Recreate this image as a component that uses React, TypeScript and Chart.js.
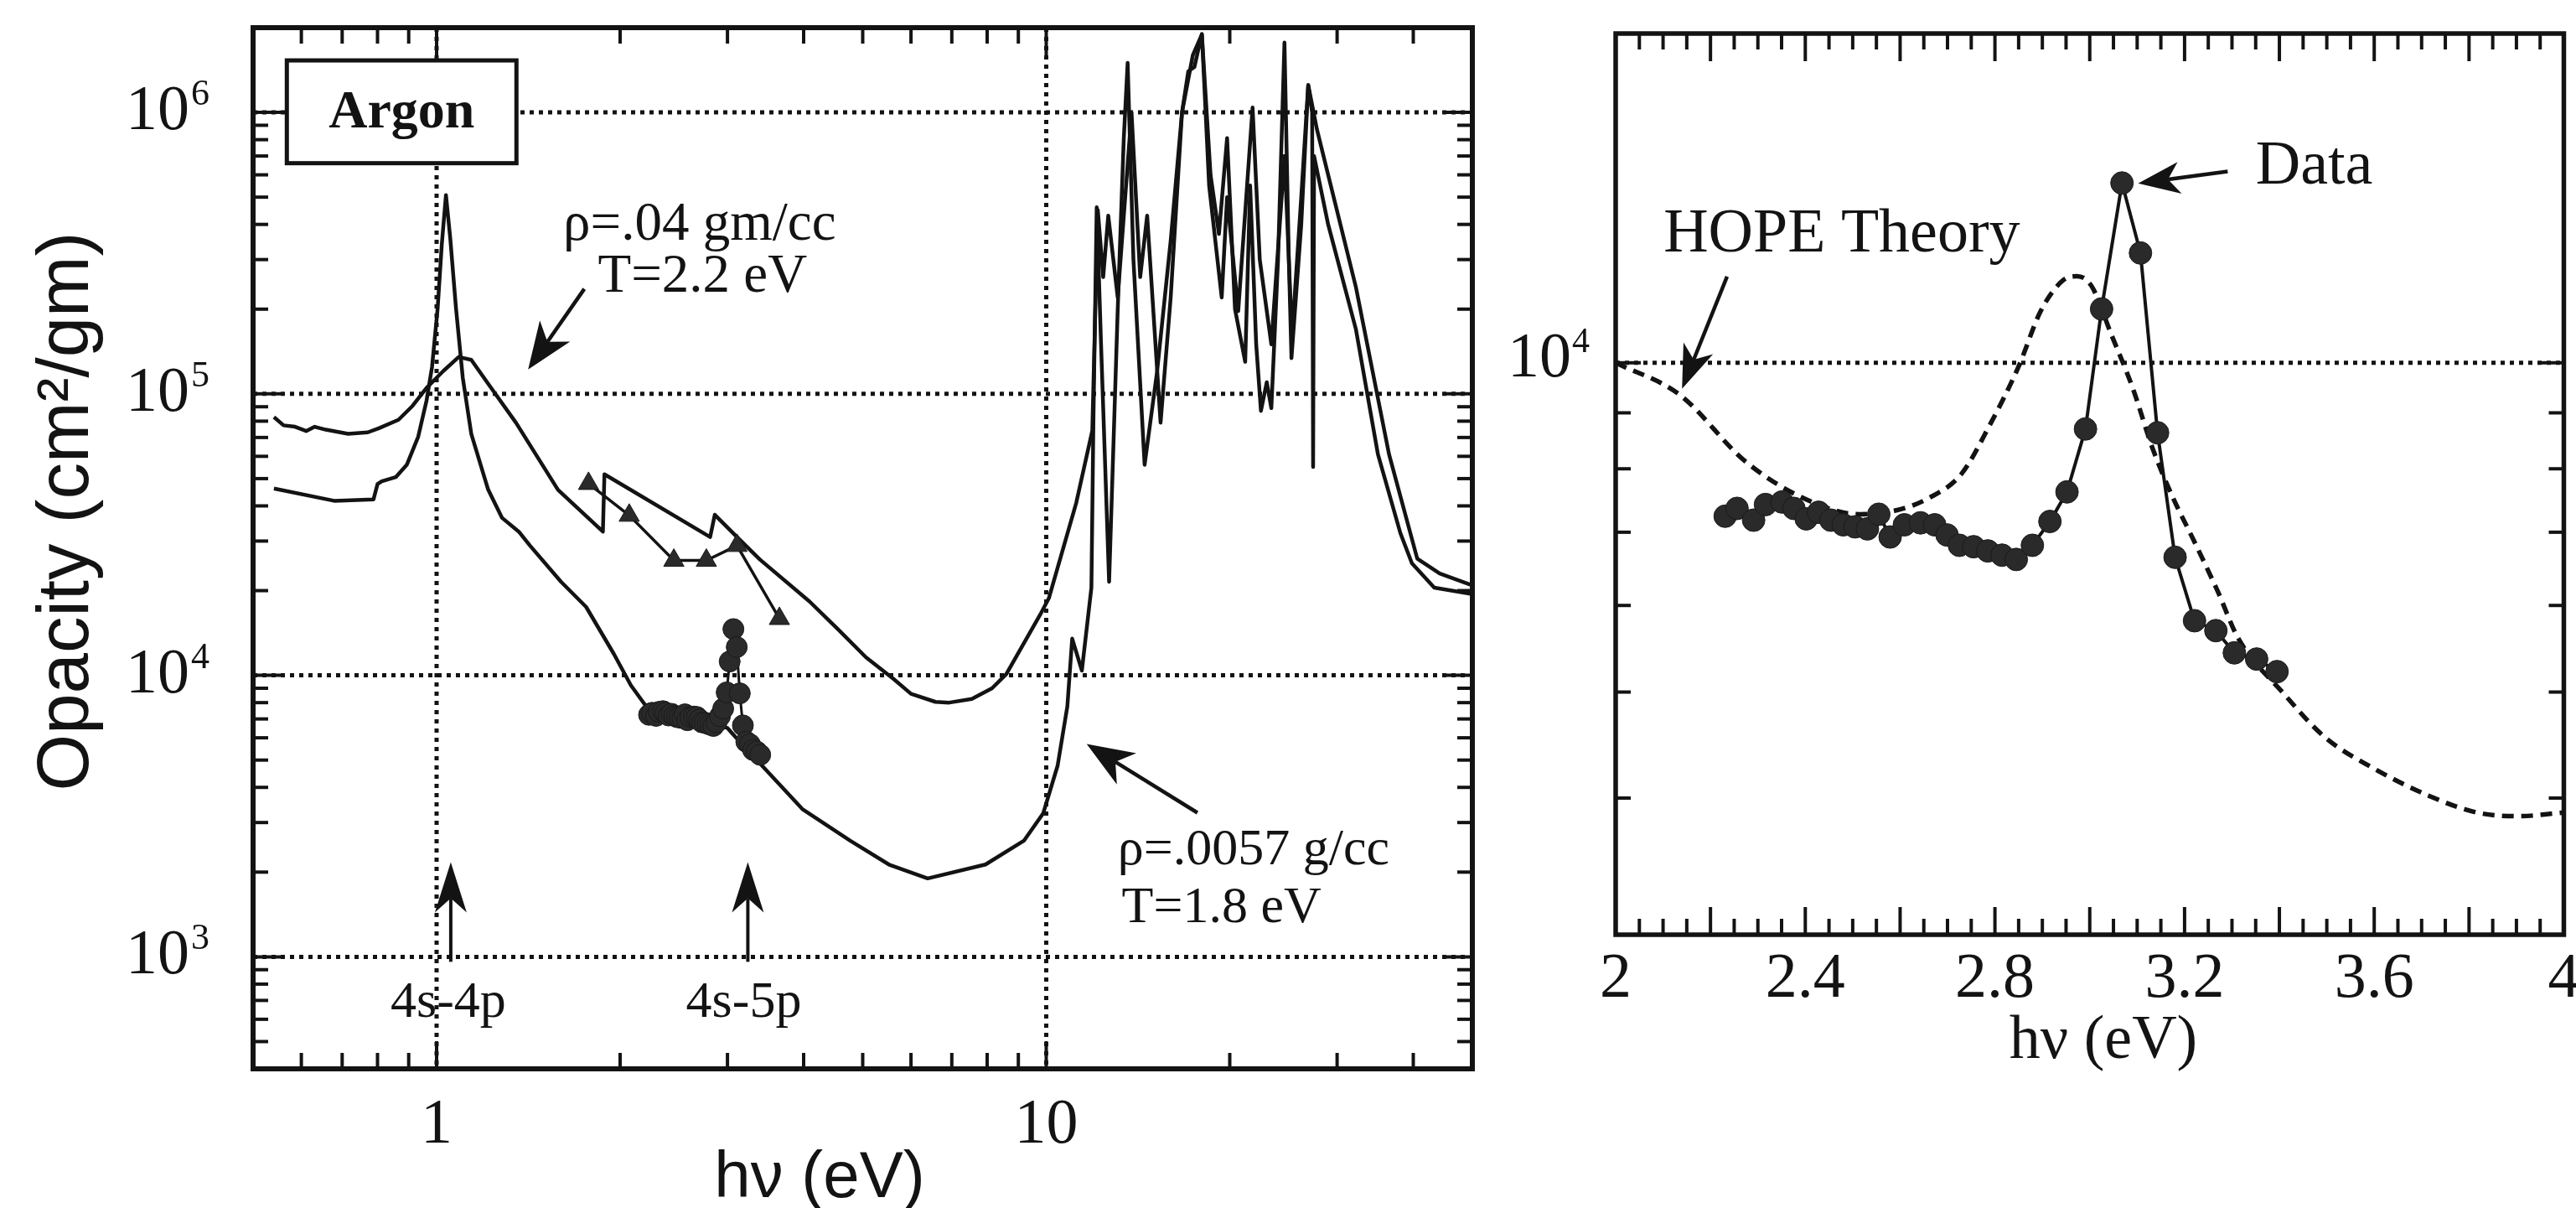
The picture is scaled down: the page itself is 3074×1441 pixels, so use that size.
import React, { useEffect, useRef } from "react";
import { Chart, registerables } from "chart.js";

Chart.register(...registerables);

const SERIF = '"Liberation Serif", "DejaVu Serif", serif';
const SANS = '"Liberation Sans", "DejaVu Sans", sans-serif';
const INK = "#131313";
const DOT = "#2a2a2a";

// ---------- Left panel: HOPE opacity curves (log-log) ----------
const rho04Energy = [
  0.541, 0.561, 0.586, 0.611, 0.631, 0.658, 0.716, 0.771, 0.804, 0.866, 0.913, 0.963, 1.026, 1.087, 1.14,
  1.215, 1.35, 1.582, 1.874, 1.885, 2.81, 2.86, 3.11, 3.39, 4.09, 4.55, 5.06, 5.62, 6.0, 6.58, 6.93, 7.55,
  8.15, 8.6, 9.77, 10.1, 11.2, 11.9, 12.15, 12.4, 12.64, 13.1, 13.8, 14.26, 14.64, 15.4, 16.0, 16.7, 17.1,
  17.5, 18.0, 18.5, 19.4, 19.8, 20.65, 21.8, 22.4, 23.4, 24.6, 25.3, 26.2, 26.9, 27.8, 29.0, 32.2, 36.5,
  40.6, 44.2, 49.6,
];
const rho04Opacity = [
  82700, 77300, 76400, 73800, 76400, 74600, 72100, 73000, 75500, 80900, 90600, 105100, 120600, 135200, 132100,
  108700, 78900, 45600, 32400, 51800, 31000, 37200, 31000, 25800, 18300, 14600, 11600, 9700, 8600, 8050, 8000,
  8250, 9000, 10100, 16400, 18800, 41000, 74000, 450000, 260000, 430000, 220000, 1000000, 260000, 430000,
  79000, 220000, 1000000, 1400000, 1450000, 1900000, 550000, 220000, 500000, 197000, 1040000, 300000, 150000,
  700000, 160000, 500000, 1250000, 870000, 600000, 240000, 61000, 26000, 23000, 21000,
];
const rho0057Energy = [
  0.541, 0.679, 0.788, 0.8, 0.813, 0.857, 0.894, 0.933, 0.963, 0.983, 1.004, 1.02, 1.036, 1.053, 1.076, 1.104,
  1.14, 1.215, 1.28, 1.364, 1.423, 1.6, 1.759, 1.954, 2.083, 2.196, 2.6, 3.0, 3.316, 3.39, 3.98, 4.77, 5.52,
  6.39, 7.95, 9.19, 9.89, 10.44, 10.83, 11.03, 11.44, 11.86, 11.95, 12.1, 12.3, 12.68, 13.1, 13.4, 13.6, 13.9,
  14.5, 15.2, 16.0, 16.7, 17.4, 18.0, 18.6, 19.2, 19.8, 20.4, 21.2, 21.6, 22.1, 22.5, 23.0, 23.4, 24.0, 24.59,
  25.0, 25.25, 26.2, 26.9, 27.3, 27.4, 27.5, 29.0, 32.2, 35.0, 38.1, 39.8, 43.3, 49.6,
];
const rho0057Opacity = [
  46100, 41700, 42200, 47800, 48900, 50600, 56100, 70500, 94900, 124800, 201500, 341000, 508700, 356700,
  201500, 114000, 72100, 45700, 36300, 32400, 28900, 21500, 17500, 11900, 9220, 7870, 7000, 6500, 5100, 4870,
  3350, 2584, 2128, 1899, 2128, 2584, 3240, 4780, 7760, 13500, 10400, 20500, 80000, 460000, 150000, 21500,
  200000, 800000, 1500000, 300000, 56000, 120000, 350000, 1000000, 1600000, 1890000, 600000, 370000, 810000,
  200000, 130000, 550000, 150000, 87000, 110000, 89000, 300000, 1770000, 300000, 134000, 400000, 1250000,
  1000000, 55000, 700000, 400000, 170000, 61000, 32000, 25000, 20500, 19500,
];
const triangleEnergy = [1.775, 2.07, 2.45, 2.77, 3.11, 3.65];
const triangleOpacity = [48000, 37000, 25600, 25600, 28900, 15900];

// ---------- Measured data (shown in both panels) ----------
const dataEnergy = [
  2.231, 2.256, 2.291, 2.316, 2.351, 2.376, 2.402, 2.428, 2.454, 2.48, 2.505, 2.531, 2.555, 2.579, 2.609,
  2.643, 2.673, 2.699, 2.725, 2.755, 2.785, 2.815, 2.845, 2.879, 2.916, 2.952, 2.991, 3.025, 3.068, 3.107,
  3.143, 3.18, 3.221, 3.266, 3.305, 3.352, 3.395,
];
const dataOpacity = [
  7240, 7360, 7180, 7420, 7460, 7360, 7200, 7300, 7180, 7110, 7080, 7050, 7270, 6930, 7110, 7140, 7110, 6960,
  6810, 6790, 6730, 6670, 6610, 6810, 7160, 7620, 8700, 11200, 14600, 12600, 8630, 6640, 5810, 5690, 5430,
  5360, 5220,
];

// ---------- Right panel: HOPE theory ----------
const hopeEnergy = [
  2.0, 2.135, 2.273, 2.402, 2.514, 2.592, 2.66, 2.729, 2.789, 2.849, 2.897, 2.944, 2.973, 3.004, 3.046, 3.09,
  3.133, 3.176, 3.218, 3.27, 3.313, 3.408, 3.495, 3.598, 3.715, 3.817, 3.904, 4.0,
];
const hopeOpacity = [
  10000, 9350, 8130, 7500, 7270, 7330, 7520, 7910, 8770, 9900, 11160, 11900, 12000, 11750, 10600, 9500, 8340,
  7520, 6900, 6180, 5600, 4990, 4550, 4260, 4020, 3880, 3850, 3880,
];

// ---------- Axis ticks / labels ----------
const leftXMinorTicks = [0.6, 0.7, 0.8, 0.9, 2, 3, 4, 5, 6, 7, 8, 9, 20, 30, 40];
const leftXMajorTicks = [1, 10];
const leftXTickLabels = ["1", "10"];
const leftYExponents = [3, 4, 5, 6];
const rightXTickValues = [2, 2.4, 2.8, 3.2, 3.6, 4];
const rightXTickLabels = ["2", "2.4", "2.8", "3.2", "3.6", "4"];
const rightYMinorTicks = [4000, 5000, 6000, 7000, 8000, 9000];
const rightYExponents = [4];

type Pt = { x: number; y: number };
const zip = (xs: number[], ys: number[]): Pt[] => xs.map((x, i) => ({ x, y: ys[i] }));

function seg(ctx: CanvasRenderingContext2D, x1: number, y1: number, x2: number, y2: number) {
  ctx.beginPath();
  ctx.moveTo(x1, y1);
  ctx.lineTo(x2, y2);
  ctx.stroke();
}

function arrow(
  ctx: CanvasRenderingContext2D,
  x1: number, y1: number, x2: number, y2: number,
  head = 50, half = 20, lw = 4.5
) {
  const ang = Math.atan2(y2 - y1, x2 - x1);
  const c = Math.cos(ang), s = Math.sin(ang);
  const bx = x2 - c * head * 0.72, by = y2 - s * head * 0.72;
  ctx.save();
  ctx.setLineDash([]);
  ctx.lineWidth = lw;
  ctx.strokeStyle = INK;
  ctx.fillStyle = INK;
  seg(ctx, x1, y1, bx, by);
  ctx.beginPath();
  ctx.moveTo(x2, y2);
  ctx.lineTo(x2 - c * head - s * half, y2 - s * head + c * half);
  ctx.lineTo(bx, by);
  ctx.lineTo(x2 - c * head + s * half, y2 - s * head - c * half);
  ctx.closePath();
  ctx.fill();
  ctx.restore();
}

function text(ctx: CanvasRenderingContext2D, str: string, x: number, y: number, font: string, align: CanvasTextAlign = "center", base: CanvasTextBaseline = "middle") {
  ctx.font = font;
  ctx.textAlign = align;
  ctx.textBaseline = base;
  ctx.fillStyle = INK;
  ctx.fillText(str, x, y);
}

// ---------- Left chart decorations ----------
const leftDecor = {
  id: "leftDecor",
  beforeDatasetsDraw(chart: any) {
    const { ctx, chartArea: a, scales } = chart;
    const { x, y } = scales;
    ctx.save();
    ctx.strokeStyle = INK;
    ctx.lineWidth = 5;
    ctx.setLineDash([5, 6]);
    for (const e of leftYExponents) {
      const py = y.getPixelForValue(Math.pow(10, e));
      seg(ctx, a.left, py, a.right, py);
    }
    for (const v of leftXMajorTicks) {
      const px = x.getPixelForValue(v);
      seg(ctx, px, a.top, px, a.bottom);
    }
    ctx.restore();
  },
  afterDatasetsDraw(chart: any) {
    const { ctx, chartArea: a, scales } = chart;
    const { x, y } = scales;
    const X = (v: number) => x.getPixelForValue(v);
    const Y = (v: number) => y.getPixelForValue(v);
    ctx.save();
    ctx.setLineDash([]);
    ctx.strokeStyle = INK;

    // Argon box
    const bx1 = X(0.568), bx2 = X(1.352), by1 = Y(1.53e6), by2 = Y(6.6e5);
    ctx.fillStyle = "#fff";
    ctx.fillRect(bx1, by1, bx2 - bx1, by2 - by1);
    ctx.lineWidth = 5;
    ctx.strokeRect(bx1, by1, bx2 - bx1, by2 - by1);
    text(ctx, "Argon", (bx1 + bx2) / 2, (by1 + by2) / 2 + 2, `bold 64px ${SERIF}`);

    // frame
    ctx.lineWidth = 6;
    ctx.strokeRect(a.left, a.top, a.right - a.left, a.bottom - a.top);

    // ticks
    ctx.lineWidth = 4;
    for (const v of leftXMinorTicks) {
      const px = X(v);
      seg(ctx, px, a.bottom, px, a.bottom - 19);
      seg(ctx, px, a.top, px, a.top + 19);
    }
    for (const v of leftXMajorTicks) {
      const px = X(v);
      seg(ctx, px, a.bottom, px, a.bottom - 33);
      seg(ctx, px, a.top, px, a.top + 33);
    }
    for (let e = 2; e <= 6; e++) {
      for (let m = 1; m <= 9; m++) {
        const v = m * Math.pow(10, e);
        if (v <= 400 || v >= 2e6) continue;
        const len = m === 1 ? 33 : 18;
        const py = Y(v);
        seg(ctx, a.left, py, a.left + len, py);
        seg(ctx, a.right, py, a.right - len, py);
      }
    }

    // y tick labels 10^n
    for (const e of leftYExponents) {
      const py = Y(Math.pow(10, e));
      text(ctx, "10", a.left - 76, py + 20, `76px ${SERIF}`, "right", "alphabetic");
      text(ctx, String(e), a.left - 74, py - 9, `44px ${SERIF}`, "left", "alphabetic");
    }
    // x tick labels
    leftXMajorTicks.forEach((v, i) => {
      text(ctx, leftXTickLabels[i], X(v), a.bottom + 88, `76px ${SERIF}`, "center", "alphabetic");
    });

    // axis titles
    text(ctx, "h\u03bd (eV)", 978, 1428, `78px ${SANS}`, "center", "alphabetic");
    ctx.save();
    ctx.translate(105, 610);
    ctx.rotate(-Math.PI / 2);
    text(ctx, "Opacity (cm\u00b2/gm)", 0, 0, `87px ${SANS}`, "center", "alphabetic");
    ctx.restore();

    // annotations
    text(ctx, "\u03c1=.04 gm/cc", X(2.70), Y(3.96e5), `65px ${SERIF}`);
    text(ctx, "T=2.2 eV", X(2.73), Y(2.59e5), `65px ${SERIF}`);
    arrow(ctx, X(1.747), Y(2.36e5), X(1.413), Y(1.22e5), 56, 22);

    text(ctx, "\u03c1=.0057 g/cc", X(13.1), Y(2390), `62px ${SERIF}`, "left");
    text(ctx, "T=1.8 eV", X(13.3), Y(1490), `62px ${SERIF}`, "left");
    arrow(ctx, X(17.7), Y(3250), X(11.65), Y(5700), 56, 22);

    text(ctx, "4s-4p", X(1.045), Y(686), `62px ${SERIF}`);
    text(ctx, "4s-5p", X(3.19), Y(686), `62px ${SERIF}`);
    arrow(ctx, X(1.055), Y(960), X(1.055), Y(2170), 60, 19, 4);
    arrow(ctx, X(3.24), Y(960), X(3.24), Y(2170), 60, 19, 4);

    ctx.restore();
  },
};

// ---------- Right chart decorations ----------
const rightDecor = {
  id: "rightDecor",
  beforeDatasetsDraw(chart: any) {
    const { ctx, chartArea: a, scales } = chart;
    const { y } = scales;
    ctx.save();
    ctx.strokeStyle = INK;
    ctx.lineWidth = 5;
    ctx.setLineDash([5, 6]);
    for (const e of rightYExponents) {
      const py = y.getPixelForValue(Math.pow(10, e));
      seg(ctx, a.left, py, a.right, py);
    }
    ctx.restore();
  },
  afterDatasetsDraw(chart: any) {
    const { ctx, chartArea: a, scales } = chart;
    const { x, y } = scales;
    const X = (v: number) => x.getPixelForValue(v);
    const Y = (v: number) => y.getPixelForValue(v);
    ctx.save();
    ctx.setLineDash([]);
    ctx.strokeStyle = INK;

    ctx.lineWidth = 5.5;
    ctx.strokeRect(a.left, a.top, a.right - a.left, a.bottom - a.top);

    ctx.lineWidth = 4;
    for (let i = 1; i < 40; i++) {
      const v = 2 + i * 0.05;
      const len = i % 4 === 0 ? 33 : 19;
      const px = X(v);
      seg(ctx, px, a.bottom, px, a.bottom - len);
      seg(ctx, px, a.top, px, a.top + len);
    }
    for (const v of rightYMinorTicks) {
      const py = Y(v);
      seg(ctx, a.left, py, a.left + 18, py);
      seg(ctx, a.right, py, a.right - 18, py);
    }
    for (const e of rightYExponents) {
      const py = Y(Math.pow(10, e));
      seg(ctx, a.left, py, a.left + 30, py);
      seg(ctx, a.right, py, a.right - 30, py);
      text(ctx, "10", a.left - 53, py + 16, `76px ${SERIF}`, "right", "alphabetic");
      text(ctx, String(e), a.left - 52, py - 13, `42px ${SERIF}`, "left", "alphabetic");
    }
    rightXTickValues.forEach((v, i) => {
      text(ctx, rightXTickLabels[i], X(v), a.bottom + 74, `76px ${SERIF}`, "center", "alphabetic");
    });
    text(ctx, "h\u03bd (eV)", 710, 1262, `74px ${SERIF}`, "center", "alphabetic");

    text(ctx, "HOPE Theory", X(2.477), Y(13080), `74px ${SERIF}`);
    arrow(ctx, X(2.235), Y(11990), X(2.14), Y(9468), 52, 19);
    text(ctx, "Data", X(3.35), Y(15100), `74px ${SERIF}`, "left");
    arrow(ctx, X(3.291), Y(14960), X(3.102), Y(14590), 50, 19);

    ctx.restore();
  },
};

function leftConfig(): any {
  return {
    type: "scatter",
    data: {
      datasets: [
        {
          label: "Data",
          data: zip(dataEnergy, dataOpacity),
          showLine: true,
          borderColor: INK,
          borderWidth: 3,
          pointRadius: 12.5,
          pointBackgroundColor: DOT,
          pointBorderColor: "#1a1a1a",
          pointBorderWidth: 1,
        },
        {
          label: "Triangles",
          data: zip(triangleEnergy, triangleOpacity),
          showLine: true,
          borderColor: INK,
          borderWidth: 3.5,
          pointStyle: "triangle",
          pointRadius: 14,
          pointBackgroundColor: DOT,
          pointBorderColor: "#1a1a1a",
          pointBorderWidth: 1,
        },
        {
          label: "rho=.04 gm/cc, T=2.2 eV",
          data: zip(rho04Energy, rho04Opacity),
          showLine: true,
          borderColor: INK,
          borderWidth: 4.5,
          pointRadius: 0,
          borderJoinStyle: "round",
        },
        {
          label: "rho=.0057 g/cc, T=1.8 eV",
          data: zip(rho0057Energy, rho0057Opacity),
          showLine: true,
          borderColor: INK,
          borderWidth: 4.5,
          pointRadius: 0,
          borderJoinStyle: "round",
        },
      ],
    },
    options: {
      animation: false,
      responsive: false,
      maintainAspectRatio: false,
      devicePixelRatio: 1,
      layout: { padding: { left: 302, right: 43, top: 33, bottom: 166 } },
      plugins: { legend: { display: false }, tooltip: { enabled: false } },
      elements: { line: { tension: 0 } },
      scales: {
        x: { type: "logarithmic", min: 0.5, max: 50, display: false },
        y: { type: "logarithmic", min: 400, max: 2e6, display: false },
      },
    },
    plugins: [leftDecor],
  };
}

function rightConfig(): any {
  return {
    type: "scatter",
    data: {
      datasets: [
        {
          label: "Data",
          data: zip(dataEnergy, dataOpacity),
          showLine: true,
          borderColor: INK,
          borderWidth: 4,
          pointRadius: 13.5,
          pointBackgroundColor: DOT,
          pointBorderColor: "#1a1a1a",
          pointBorderWidth: 1,
        },
        {
          label: "HOPE Theory",
          data: zip(hopeEnergy, hopeOpacity),
          showLine: true,
          borderColor: INK,
          borderWidth: 5.5,
          borderDash: [14, 9],
          pointRadius: 0,
          cubicInterpolationMode: "monotone",
        },
      ],
    },
    options: {
      animation: false,
      responsive: false,
      maintainAspectRatio: false,
      devicePixelRatio: 1,
      layout: { padding: { left: 128, right: 14, top: 40, bottom: 326 } },
      plugins: { legend: { display: false }, tooltip: { enabled: false } },
      elements: { line: { tension: 0 } },
      scales: {
        x: { type: "linear", min: 2, max: 4, display: false },
        y: { type: "logarithmic", min: 3000, max: 20000, display: false },
      },
    },
    plugins: [rightDecor],
  };
}

export default function App() {
  const leftRef = useRef<HTMLCanvasElement>(null);
  const rightRef = useRef<HTMLCanvasElement>(null);
  useEffect(() => {
    const l = new Chart(leftRef.current as HTMLCanvasElement, leftConfig());
    const r = new Chart(rightRef.current as HTMLCanvasElement, rightConfig());
    return () => {
      l.destroy();
      r.destroy();
    };
  }, []);
  return (
    <div style={{ position: "absolute", left: 0, top: 0, width: 3074, height: 1441, background: "#fff", overflow: "hidden" }}>
      <canvas ref={leftRef} width={1800} height={1441} style={{ position: "absolute", left: 0, top: 0, width: 1800, height: 1441 }} />
      <canvas ref={rightRef} width={1274} height={1441} style={{ position: "absolute", left: 1800, top: 0, width: 1274, height: 1441 }} />
    </div>
  );
}
